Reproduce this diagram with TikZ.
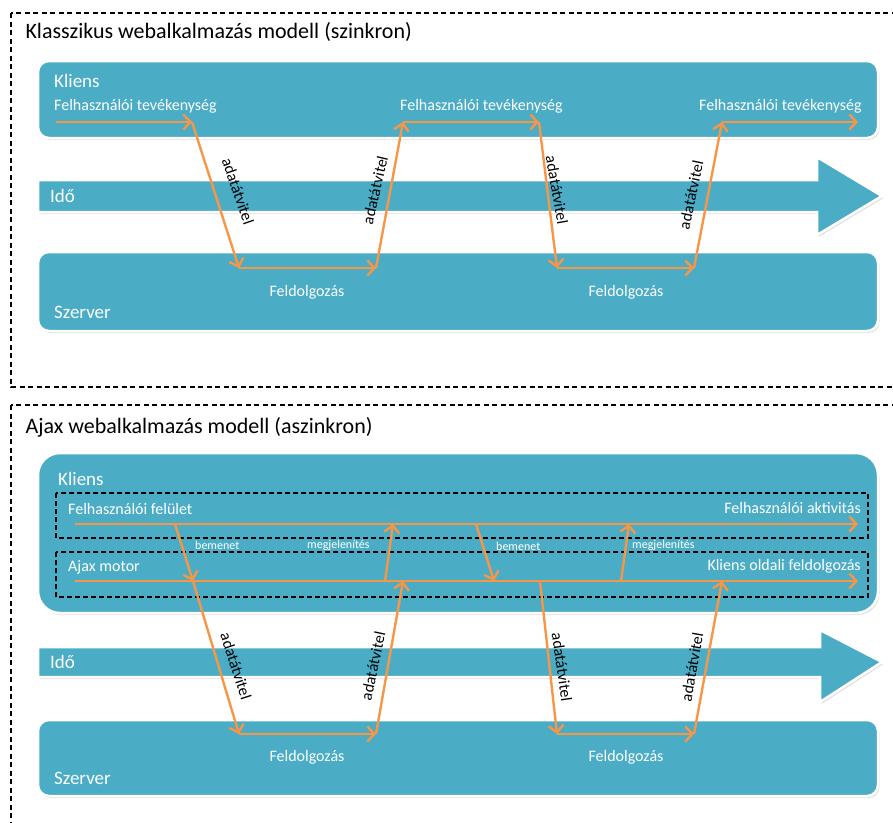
\documentclass[tikz,border=0pt]{standalone}
\usepackage{fontspec}
\setmainfont{Carlito}
\usetikzlibrary{arrows.meta,shadows}
\definecolor{laneblue}{HTML}{4BACC6}
\definecolor{floworange}{HTML}{F79646}
\begin{document}
\begin{tikzpicture}[x=1pt,y=-1pt,
  lane/.style={fill=laneblue, draw=white, line width=2.5pt,
    drop shadow={opacity=0.25, shadow xshift=1.5pt, shadow yshift=-2pt}},
  frame/.style={draw=black, line width=1.2pt, dash pattern=on 5pt off 3.5pt},
  subframe/.style={draw=black, line width=1.1pt, dash pattern=on 5pt off 3pt},
  flow/.style={draw=floworange, line width=2.4pt,
    -{Straight Barb[length=7pt,width=15pt,line width=2.4pt]}},
  heading/.style={anchor=base west, font=\fontsize{22}{26}\selectfont},
  lanelbl/.style={text=white, inner sep=0pt, font=\fontsize{19}{22}\selectfont},
  steplbl/.style={text=white, inner sep=0pt, font=\fontsize{16}{19}\selectfont},
  smalllbl/.style={text=white, inner sep=0pt, font=\fontsize{12}{14}\selectfont},
  xfer/.style={inner sep=0pt, text=black, font=\fontsize{16}{19}\selectfont}
]
\useasboundingbox (0,0) rectangle (893,822);

% ---------- synchronous model ----------
\draw[frame] (11,13) rectangle (900,387);
\node[heading] (t1) at (22,38) {Klasszikus webalkalmazás modell (szinkron)};

\path[lane, rounded corners=11pt] (38,61) rectangle (878,138);
\path[lane] (38,180) -- (817,180) -- (817,157) -- (882,196) -- (817,235)
  -- (817,212) -- (38,212) -- cycle;
\path[lane, rounded corners=11pt] (38,252) rectangle (878,331);

\node[lanelbl, anchor=west] (k1) at (54,81) {Kliens};
\node[lanelbl, anchor=west] (i1) at (50,196) {Idő};
\node[lanelbl, anchor=west] (s1) at (54,312) {Szerver};
\node[steplbl, anchor=west] (f1) at (54,106) {Felhasználói tevékenység};
\node[steplbl, anchor=west] (f2) at (400,106) {Felhasználói tevékenység};
\node[steplbl, anchor=west] (f3) at (699,106) {Felhasználói tevékenység};
\node[steplbl] (p1) at (307,292) {Feldolgozás};
\node[steplbl] (p2) at (626,292) {Feldolgozás};

\coordinate (a0) at (56,122);
\coordinate (a1) at (192,122);
\coordinate (a2) at (239,268);
\coordinate (a3) at (376,268);
\coordinate (a4) at (403,122);
\coordinate (a5) at (539,122);
\coordinate (a6) at (557,268);
\coordinate (a7) at (694,268);
\coordinate (a8) at (722,122);
\coordinate (a9) at (858,122);

\draw[flow] (a0) -- (a1);
\draw[flow] (a1) -- (a2);
\draw[flow] (a2) -- (a3);
\draw[flow] (a3) -- (a4);
\draw[flow] (a4) -- (a5);
\draw[flow] (a5) -- (a6);
\draw[flow] (a6) -- (a7);
\draw[flow] (a7) -- (a8);
\draw[flow] (a8) -- (a9);

\node[xfer, rotate=-71] (x1) at (238,191) {adatátvitel};
\node[xfer, rotate=77]  (x2) at (375,190) {adatátvitel};
\node[xfer, rotate=-80] (x3) at (557,190) {adatátvitel};
\node[xfer, rotate=78]  (x4) at (691,195) {adatátvitel};

% ---------- asynchronous model ----------
\draw[frame] (11,405) rectangle (900,830);
\node[heading] (t2) at (22,433) {Ajax webalkalmazás modell (aszinkron)};

\path[lane, rounded corners=22pt] (38,453) rectangle (878,613);
\path[lane] (38,647) -- (820,647) -- (820,630) -- (882,662) -- (820,702)
  -- (820,677) -- (38,677) -- cycle;
\path[lane, rounded corners=11pt] (38,720) rectangle (878,796);

\draw[subframe] (56,493) rectangle (868,538);
\draw[subframe] (56,552) rectangle (868,597);

\node[lanelbl, anchor=west] (k2) at (58,479) {Kliens};
\node[lanelbl, anchor=west] (i2) at (50,662) {Idő};
\node[lanelbl, anchor=west] (s2) at (54,778) {Szerver};
\node[steplbl, anchor=west] (ui) at (68,509) {Felhasználói felület};
\node[steplbl, anchor=east] (ua) at (861,508) {Felhasználói aktivitás};
\node[steplbl, anchor=west] (am) at (68,567) {Ajax motor};
\node[steplbl, anchor=east] (cp) at (861,566) {Kliens oldali feldolgozás};
\node[smalllbl, anchor=west] (in1) at (195,545) {bemenet};
\node[smalllbl, anchor=west] (in2) at (496,546) {bemenet};
\node[smalllbl, anchor=west] (out1) at (307,545) {megjelenítés};
\node[smalllbl, anchor=west] (out2) at (632,545) {megjelenítés};
\node[steplbl] (p3) at (307,757) {Feldolgozás};
\node[steplbl] (p4) at (626,757) {Feldolgozás};

\coordinate (u0) at (75,524);
\coordinate (u9) at (858,524);
\coordinate (e0) at (75,581);
\coordinate (e9) at (858,581);
\coordinate (b1s) at (175,524);
\coordinate (b1e) at (193,581);
\coordinate (d1) at (239,734);
\coordinate (d2) at (376,734);
\coordinate (r1) at (403,581);
\coordinate (m1s) at (385,581);
\coordinate (m1e) at (393,524);
\coordinate (b2s) at (476,524);
\coordinate (b2e) at (494,581);
\coordinate (c2) at (540,581);
\coordinate (d3) at (557,734);
\coordinate (d4) at (694,734);
\coordinate (r2) at (722,581);
\coordinate (m2s) at (621,581);
\coordinate (m2e) at (629,524);

\draw[flow] (u0) -- (u9);
\draw[flow] (e0) -- (e9);
\draw[flow] (b1s) -- (b1e);
\draw[flow] (b1e) -- (d1);
\draw[flow] (d1) -- (d2);
\draw[flow] (d2) -- (r1);
\draw[flow] (m1s) -- (m1e);
\draw[flow] (b2s) -- (b2e);
\draw[flow] (c2) -- (d3);
\draw[flow] (d3) -- (d4);
\draw[flow] (d4) -- (r2);
\draw[flow] (m2s) -- (m2e);

\node[xfer, rotate=-72] (x5) at (236,666) {adatátvitel};
\node[xfer, rotate=78]  (x6) at (373,666) {adatátvitel};
\node[xfer, rotate=-82] (x7) at (562,667) {adatátvitel};
\node[xfer, rotate=80]  (x8) at (692,667) {adatátvitel};
\end{tikzpicture}
\end{document}
